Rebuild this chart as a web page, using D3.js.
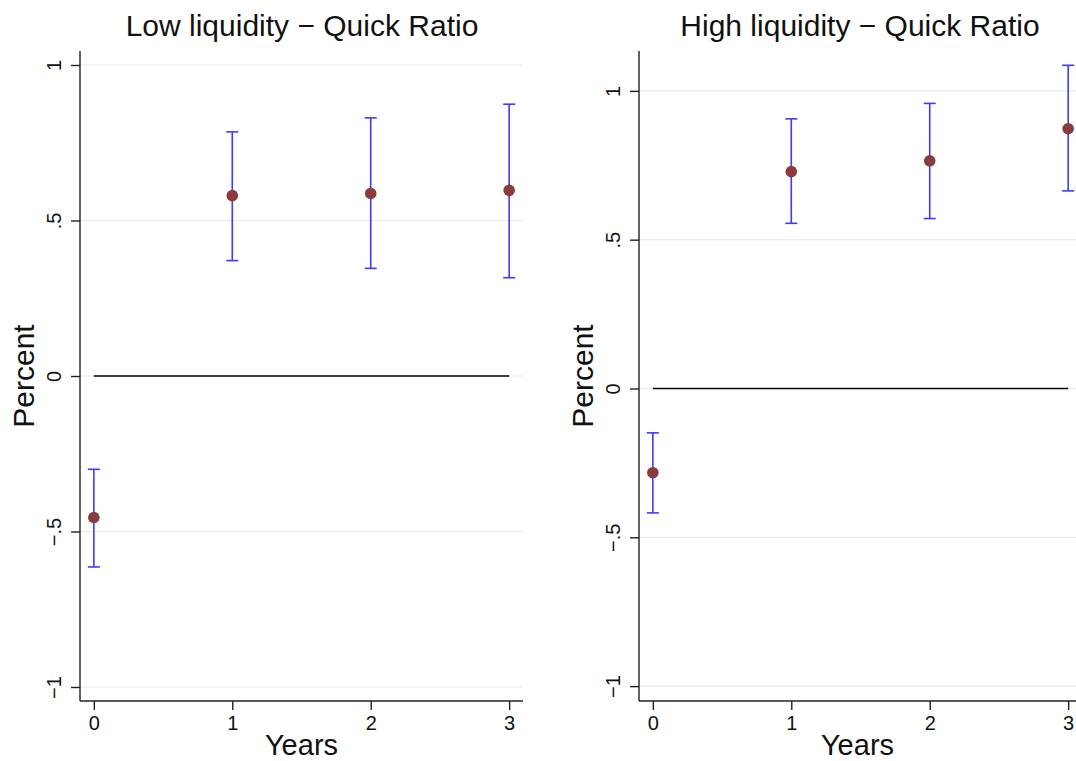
<!DOCTYPE html>
<html><head><meta charset="utf-8">
<script src="https://cdn.jsdelivr.net/npm/d3@7"></script>
<style>body{margin:0;background:#fff;}svg{display:block;font-family:"Liberation Sans",Arial,sans-serif;}</style>
</head><body>
<svg id="c" width="1076" height="761"></svg>
<script>
const years = [0, 1, 2, 3];
const xTicks = [0, 1, 2, 3];
const yTicks = [-1, -0.5, 0, 0.5, 1];
const yTickLabels = ["\u22121", "\u2212.5", "0", ".5", "1"];
const titles = ["Low liquidity \u2212 Quick Ratio", "High liquidity \u2212 Quick Ratio"];
const lowEst = [-0.455, 0.580, 0.587, 0.597];
const lowLo = [-0.614, 0.371, 0.346, 0.316];
const lowHi = [-0.300, 0.785, 0.830, 0.874];
const highEst = [-0.283, 0.729, 0.765, 0.873];
const highLo = [-0.418, 0.555, 0.571, 0.664];
const highHi = [-0.149, 0.906, 0.958, 1.086];

const svg = d3.select("#c");
const panels = [
  {title: titles[0], est: lowEst, lo: lowLo, hi: lowHi, x0: 80, x1: 523, yDom: [-1.045, 1.045], cx: 302},
  {title: titles[1], est: highEst, lo: highLo, hi: highHi, x0: 639, x1: 1082, yDom: [-1.05, 1.134], cx: 860}
];
const plotTop = 51, plotBottom = 701;
panels.forEach(p => {
  const g = svg.append("g");
  const x = d3.scaleLinear().domain([-0.1, 3.1]).range([p.x0, p.x1]);
  const y = d3.scaleLinear().domain(p.yDom).range([plotBottom, plotTop]);
  // gridlines
  g.selectAll("line.grid").data(yTicks).join("line")
    .attr("x1", p.x0).attr("x2", p.x1).attr("y1", d => y(d)).attr("y2", d => y(d))
    .attr("stroke", "#e6eef1").attr("stroke-width", 1.2);
  // zero line
  g.append("line").attr("x1", x(0)).attr("x2", x(3)).attr("y1", y(0)).attr("y2", y(0))
    .attr("stroke", "#000").attr("stroke-width", 1.4);
  // y axis
  const ya = g.append("g").attr("transform", `translate(${p.x0},0)`)
    .call(d3.axisLeft(y).tickValues(yTicks).tickSize(9).tickFormat((d, i) => yTickLabels[i]));
  ya.select(".domain").attr("d", `M0,${plotTop}V${plotBottom}`).attr("stroke", "#222").attr("stroke-width", 1.4);
  ya.selectAll(".tick line").attr("stroke", "#222").attr("stroke-width", 1.4);
  ya.selectAll(".tick text").attr("transform", "rotate(-90)").attr("x", 0).attr("y", -26)
    .attr("dy", "0.35em").attr("text-anchor", "middle").attr("font-size", 20).attr("fill", "#111");
  // x axis
  const xa = g.append("g").attr("transform", `translate(0,${plotBottom})`)
    .call(d3.axisBottom(x).tickValues(xTicks).tickSize(9).tickFormat(d3.format("d")));
  xa.select(".domain").attr("d", `M${p.x0},0H${p.x1}`).attr("stroke", "#222").attr("stroke-width", 1.4);
  xa.selectAll(".tick line").attr("stroke", "#222").attr("stroke-width", 1.4);
  xa.selectAll(".tick text").attr("y", 15).attr("font-size", 20).attr("fill", "#111");
  // labels
  g.append("text").attr("x", p.cx).attr("y", 36).attr("text-anchor", "middle")
    .attr("font-size", 30).attr("fill", "#111").text(p.title);
  g.append("text").attr("x", (p.x0 + Math.min(p.x1, 1076)) / 2 + 0).attr("y", 755).attr("text-anchor", "middle")
    .attr("font-size", 29).attr("fill", "#111").text("Years");
  g.append("text").attr("transform", `translate(${p.x0 - 46},${(plotTop + plotBottom) / 2}) rotate(-90)`)
    .attr("text-anchor", "middle").attr("font-size", 30).attr("fill", "#111").text("Percent");
  // error bars
  const cw = 6;
  const eb = g.selectAll("g.eb").data(years).join("g").attr("class", "eb");
  eb.append("line").attr("x1", d => x(d)).attr("x2", d => x(d))
    .attr("y1", (d, i) => y(p.lo[i])).attr("y2", (d, i) => y(p.hi[i]));
  eb.append("line").attr("x1", d => x(d) - cw).attr("x2", d => x(d) + cw)
    .attr("y1", (d, i) => y(p.lo[i])).attr("y2", (d, i) => y(p.lo[i]));
  eb.append("line").attr("x1", d => x(d) - cw).attr("x2", d => x(d) + cw)
    .attr("y1", (d, i) => y(p.hi[i])).attr("y2", (d, i) => y(p.hi[i]));
  eb.selectAll("line").attr("stroke", "#3b3bff").attr("stroke-width", 1.6);
  g.selectAll("circle").data(years).join("circle")
    .attr("cx", d => x(d)).attr("cy", (d, i) => y(p.est[i])).attr("r", 5.8)
    .attr("fill", "#8b3a3d");
});
</script>
</body></html>
